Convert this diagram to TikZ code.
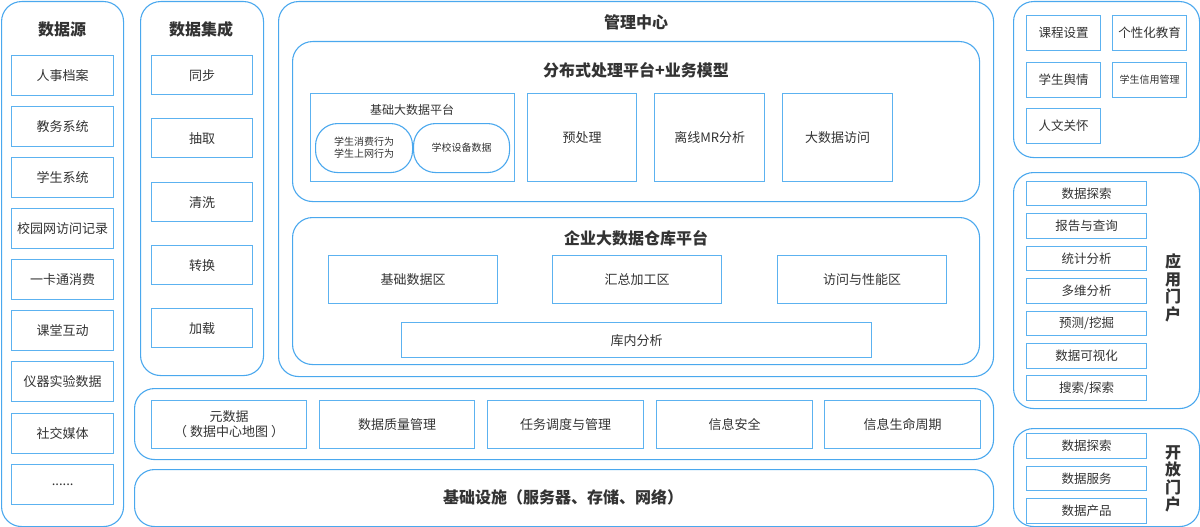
\documentclass[tikz,border=0pt]{standalone}
\usepackage{fontspec}
\setmainfont{Noto Sans CJK SC}
\definecolor{cline}{HTML}{4AA8EE}
\definecolor{bline}{HTML}{5CB2F0}
\definecolor{txt}{HTML}{333333}
\tikzset{
  cont/.style={draw=cline, line width=1.1pt, rounded corners=20pt, fill=white},
  pill/.style={draw=cline, line width=1.1pt, rounded corners=22pt, fill=white},
  bx/.style={draw=bline, line width=1.3pt, fill=white},
  small/.style={font=\fontsize{10}{12}\selectfont},
  ttl/.style={text=txt, font=\fontsize{16}{18}\selectfont\bfseries, inner sep=0pt},
  lbl/.style={text=txt, font=\fontsize{13}{15}\selectfont, align=center, inner sep=0pt},
}
% \R{style}{name}{x1}{y1}{x2}{y2}{text}
\newcommand{\R}[7]{\node[#1, anchor=north west, inner sep=0pt, minimum width={(#5-#3)*1pt}, minimum height={(#6-#4)*1pt}, text=txt, align=center] (#2) at (#3,#4) {#7};}
\begin{document}
\begin{tikzpicture}[x=1pt,y=-1pt]
\useasboundingbox (0,0) rectangle (1200,527);
\fill[white] (0,0) rectangle (1200,527);
% ---------- data sources
\begin{scope}[every node/.append style={font=\fontsize{13}{15}\selectfont}]
\R{cont}{src}{1}{1}{123}{526}{}
\node[ttl] (srct) at (62,29) {数据源};
\R{bx}{s1}{11}{55}{113}{95}{人事档案}
\R{bx}{s2}{11}{106}{113}{146}{教务系统}
\R{bx}{s3}{11}{157}{113}{197}{学生系统}
\R{bx}{s4}{11}{208}{113}{248}{校园网访问记录}
\R{bx}{s5}{11}{259}{113}{299}{一卡通消费}
\R{bx}{s6}{11}{310}{113}{350}{课堂互动}
\R{bx}{s7}{11}{361}{113}{401}{仪器实验数据}
\R{bx}{s8}{11}{413}{113}{453}{社交媒体}
\R{bx}{s9}{11}{464}{113}{504}{......}
% ---------- integration
\R{cont}{integ}{140}{1}{263}{375}{}
\node[ttl] (integt) at (201,29) {数据集成};
\R{bx}{i1}{151}{55}{252}{94}{同步}
\R{bx}{i2}{151}{118}{252}{157}{抽取}
\R{bx}{i3}{151}{182}{252}{221}{清洗}
\R{bx}{i4}{151}{245}{252}{284}{转换}
\R{bx}{i5}{151}{308}{252}{347}{加载}
% ---------- management center
\R{cont}{mgmt}{278}{1}{993}{376}{}
\node[ttl] (mgmtt) at (636,22) {管理中心};
\R{cont}{dist}{292}{41}{979}{201}{}
\node[ttl] (distt) at (636,70) {分布式处理平台+业务模型};
\R{bx}{base}{310}{93}{514}{181}{}
\node[lbl, font=\fontsize{12}{14}\selectfont] (baset) at (412,110) {基础大数据平台};
\R{pill,small}{p1}{315}{123}{412}{172}{学生消费行为\\学生上网行为}
\R{pill,small}{p2}{413}{123}{509}{172}{学校设备数据}
\R{bx}{pre}{527}{93}{636}{181}{预处理}
\R{bx}{mr}{654}{93}{764}{181}{离线MR分析}
\R{bx}{acc}{782}{93}{892}{181}{大数据访问}
\R{cont}{dw}{292}{217}{979}{364}{}
\node[ttl] (dwt) at (636,238) {企业大数据仓库平台};
\R{bx}{w1}{328}{255}{497}{303}{基础数据区}
\R{bx}{w2}{552}{255}{721}{303}{汇总加工区}
\R{bx}{w3}{777}{255}{946}{303}{访问与性能区}
\R{bx}{w4}{401}{322}{871}{357}{库内分析}
% ---------- meta row
\R{cont}{meta}{134}{388}{993}{459}{}
\R{bx}{m1}{151}{400}{306}{448}{元数据\\（ 数据中心地图 ）}
\R{bx}{m2}{319}{400}{474}{448}{数据质量管理}
\R{bx}{m3}{487}{400}{643}{448}{任务调度与管理}
\R{bx}{m4}{656}{400}{812}{448}{信息安全}
\R{bx}{m5}{824}{400}{980}{448}{信息生命周期}
% ---------- infrastructure
\R{cont}{infra}{134}{469}{993}{526}{}
\node[ttl] (infrat) at (563,497) {基础设施（服务器、存储、网络）};
\end{scope}
% ---------- right top
\begin{scope}[every node/.append style={font=\fontsize{12.5}{14}\selectfont}]
\R{cont}{app1}{1013}{1}{1199}{157}{}
\R{bx}{a1}{1026}{15}{1100}{50}{课程设置}
\R{bx}{a2}{1112}{15}{1186}{50}{个性化教育}
\R{bx}{a3}{1026}{62}{1100}{97}{学生舆情}
\R{bx,small}{a4}{1112}{62}{1186}{97}{学生信用管理}
\R{bx}{a5}{1026}{108}{1100}{143}{人文关怀}
% ---------- application portal
\R{cont}{ap}{1013}{172}{1199}{408}{}
\R{bx}{q1}{1026}{181}{1146}{205}{数据探索}
\R{bx}{q2}{1026}{213}{1146}{238}{报告与查询}
\R{bx}{q3}{1026}{246}{1146}{270}{统计分析}
\R{bx}{q4}{1026}{278}{1146}{303}{多维分析}
\R{bx}{q5}{1026}{311}{1146}{335}{预测/挖掘}
\R{bx}{q6}{1026}{343}{1146}{368}{数据可视化}
\R{bx}{q7}{1026}{375}{1146}{400}{搜索/探索}
\node[ttl, align=center, font=\fontsize{16}{17.5}\selectfont\bfseries] (apt) at (1173,288) {应\\用\\门\\户};
% ---------- open portal
\R{cont}{op}{1013}{428}{1199}{526}{}
\R{bx}{o1}{1026}{433}{1146}{458}{数据探索}
\R{bx}{o2}{1026}{466}{1146}{490}{数据服务}
\R{bx}{o3}{1026}{498}{1146}{523}{数据产品}
\node[ttl, align=center, font=\fontsize{16}{17.5}\selectfont\bfseries] (opt) at (1173,479) {开\\放\\门\\户};
\end{scope}
\end{tikzpicture}
\end{document}
